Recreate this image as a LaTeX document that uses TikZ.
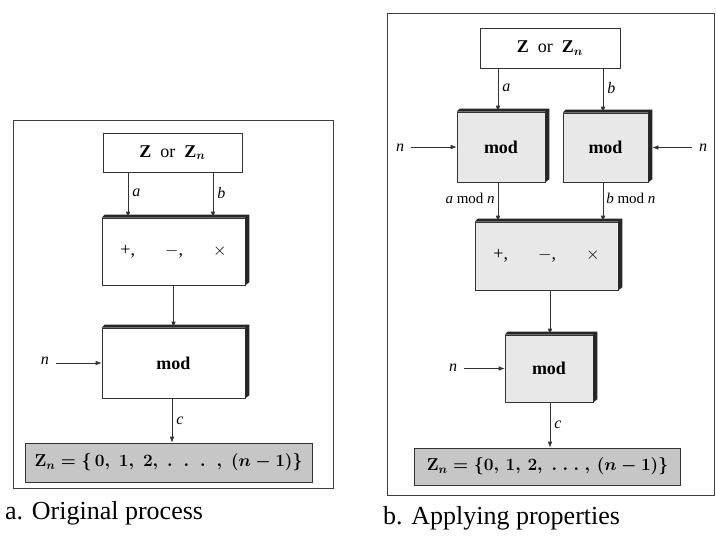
\documentclass[tikz,border=0pt]{standalone}
\usepackage{fontspec}
\setmainfont{Liberation Serif}
\usetikzlibrary{arrows.meta}
\tikzset{
  blk/.style={draw=black!80, line width=0.6pt, inner sep=0pt, font=\fontsize{18}{20}\selectfont\bfseries\boldmath},
  wblk/.style={blk, fill=white},
  gblk/.style={blk, fill=gray!18},
  znblk/.style={draw=black!80, line width=0.6pt, fill=gray!45, inner sep=0pt, font=\fontsize{18}{20}\selectfont\bfseries\boldmath},
  arr/.style={line width=0.6pt, draw=black!80, -{Latex[length=6pt,width=4.5pt]}},
  lbl/.style={font=\fontsize{16}{18}\selectfont\itshape, inner sep=1pt},
  mlbl/.style={font=\fontsize{15}{17}\selectfont, inner sep=1pt},
  captxt/.style={font=\fontsize{26}{28}\selectfont, anchor=west, inner sep=0pt},
  frm/.style={draw=black!75, line width=0.7pt}
}
\newcommand{\boxshade}[1]{%
  \fill[black!85] (#1.north west) -- ([xshift=3pt,yshift=3pt]#1.north west) -- ([xshift=4pt,yshift=3pt]#1.north east) -- ([xshift=4pt,yshift=3pt]#1.south east) -- (#1.south east) -- (#1.north east) -- cycle;}
\newcommand{\zzn}{Z\hspace{9pt}\textmd{or}\hspace{9pt}Z$_{n}$}
\newcommand{\opstxt}{\textmd{\unboldmath+,\hspace{30pt}$-$,\hspace{30pt}$\times$}}
\newcommand{\zset}{$\mathbf{Z}_n = \{\,0,\; 1,\; 2,\; .\;\; .\;\; .\;\; ,\; (n-1)\}$}
\newcommand{\zsetb}{$\mathbf{Z}_n = \{0,\, 1,\, 2,\; .\; .\; .\; ,\, (n-1)\}$}
\begin{document}
\begin{tikzpicture}[x=1pt,y=-1pt]
\useasboundingbox[fill=white] (0,0) rectangle (716,536);
% ---------- left panel ----------
\draw[frm] (13,120) rectangle (333,488);
\node[wblk, minimum width=139pt, minimum height=39pt] (zt) at (172.5,152.5) {\zzn};
\node[wblk, minimum width=143pt, minimum height=67pt] (ops) at (173.5,251.5) {\opstxt};
\boxshade{ops}
\node[wblk, minimum width=143pt, minimum height=70pt] (m) at (173.5,363) {mod};
\boxshade{m}
\node[znblk, minimum width=287pt, minimum height=39pt] (zn) at (168.5,462.5) {\zset};
\draw[arr] ([xshift=-44.5pt]zt.south) -- ([xshift=-44.5pt]zt.south |- ops.north) node[lbl, pos=0.45, right=3pt] (la) {a};
\draw[arr] ([xshift=40.5pt]zt.south) -- ([xshift=40.5pt]zt.south |- ops.north) node[lbl, pos=0.45, right=3pt] (lb) {b};
\draw[arr] (ops.south) -- (m.north);
\node[lbl] (nl) at (45,361) {n};
\draw[arr] ([xshift=6pt]m.west -| nl.east) -- (m.west);
\draw[arr] ([xshift=-1.5pt]m.south) -- ([xshift=-1.5pt]m.south |- zn.north) node[lbl, pos=0.5, right=3pt] (lc) {c};
\node[captxt] (capa) at (5,513) {a. Original process};
% ---------- right panel ----------
\draw[frm] (387,13) rectangle (714,495);
\node[wblk, minimum width=140pt, minimum height=40pt] (zt2) at (550,48) {\zzn};
\node[gblk, minimum width=88pt, minimum height=70pt] (m1) at (501,147) {mod};
\boxshade{m1}
\node[gblk, minimum width=85pt, minimum height=69pt] (m2) at (605.5,147.5) {mod};
\boxshade{m2}
\node[gblk, minimum width=143pt, minimum height=68pt] (ops2) at (546.5,256) {\opstxt};
\boxshade{ops2}
\node[gblk, minimum width=88pt, minimum height=67pt] (m3) at (549,368.5) {mod};
\boxshade{m3}
\node[znblk, minimum width=266pt, minimum height=37pt] (zn2) at (547.5,466.5) {\zsetb};
\draw[arr] ([xshift=-52pt]zt2.south) -- ([xshift=-52pt]zt2.south |- m1.north) node[lbl, pos=0.45, right=3pt] (la2) {a};
\draw[arr] ([xshift=53pt]zt2.south) -- ([xshift=53pt]zt2.south |- m2.north) node[lbl, pos=0.45, right=3pt] (lb2) {b};
\node[lbl] (nl1) at (400,148) {n};
\draw[arr] ([xshift=6pt]m1.west -| nl1.east) -- (m1.west);
\node[lbl] (nl2) at (703,148) {n};
\draw[arr] ([xshift=-6pt]m2.east -| nl2.west) -- ([xshift=4pt]m2.east);
\draw[arr] ([xshift=-3pt]m1.south) -- ([xshift=-3pt]m1.south |- ops2.north) node[mlbl, pos=0.4, left=2pt] (lam) {\textit{a} mod \textit{n}};
\draw[arr] ([xshift=-2.5pt]m2.south) -- ([xshift=-2.5pt]m2.south |- ops2.north) node[mlbl, pos=0.4, right=2pt] (lbm) {\textit{b} mod \textit{n}};
\draw[arr] ([xshift=3.5pt]ops2.south) -- ([xshift=3.5pt]ops2.south |- m3.north);
\node[lbl] (nl3) at (453,368) {n};
\draw[arr] ([xshift=6pt]m3.west -| nl3.east) -- (m3.west);
\draw[arr] ([xshift=1pt]m3.south) -- ([xshift=1pt]m3.south |- zn2.north) node[lbl, pos=0.5, right=3pt] (lc2) {c};
\node[captxt] (capb) at (383,518) {b. Applying properties};
\end{tikzpicture}
\end{document}
